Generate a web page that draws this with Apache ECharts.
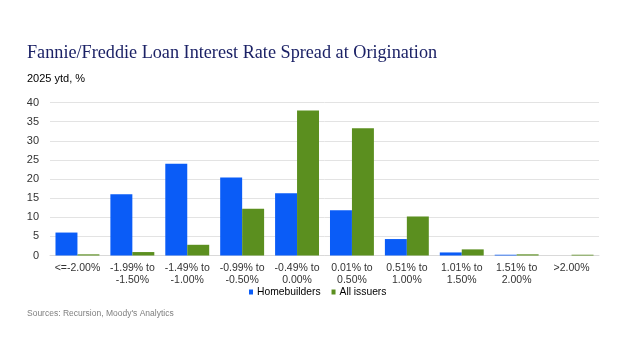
<!DOCTYPE html>
<html>
<head>
<meta charset="utf-8">
<script src="https://cdn.jsdelivr.net/npm/echarts@6/dist/echarts.min.js"></script>
<style>
	html, body { margin: 0; padding: 0; background: #fff; }
	#chart { width: 624px; height: 351px; }
</style>
</head>
<body>
<div id="chart"></div>
<script>
// spread buckets
var categories = ['<=-2.00%', '-1.99% to\n-1.50%', '-1.49% to\n-1.00%', '-0.99% to\n-0.50%', '-0.49% to\n0.00%',
	'0.01% to\n0.50%', '0.51% to\n1.00%', '1.01% to\n1.50%', '1.51% to\n2.00%', '>2.00%'];
var homebuilders = [6.0, 16.0, 24.0, 20.4, 16.3, 11.8, 4.3, 0.8, 0.2, 0.0];
var allIssuers = [0.3, 0.9, 2.8, 12.2, 37.9, 33.3, 10.2, 1.6, 0.3, 0.2];
var yTicks = [0, 5, 10, 15, 20, 25, 30, 35, 40];

var myChart = echarts.init(document.getElementById('chart'));
var option = {
	animation: false,
	title: [{
		text: 'Fannie/Freddie Loan Interest Rate Spread at Origination',
		left: 27,
		top: 44,
		padding: 0,
		textStyle: {
			fontFamily: 'Liberation Serif',
			fontWeight: 'normal',
			fontSize: 18.2,
			color: '#1c2266'
		}
	}, {
		text: '2025 ytd, %',
		left: 27,
		top: 73,
		padding: 0,
		textStyle: {
			fontFamily: 'Liberation Sans',
			fontWeight: 'normal',
			fontSize: 11,
			color: '#000'
		}
	}, {
		text: "Sources: Recursion, Moody's Analytics",
		left: 27,
		top: 309,
		padding: 0,
		textStyle: {
			fontFamily: 'Liberation Sans',
			fontWeight: 'normal',
			fontSize: 8.5,
			color: '#808080'
		}
	}],
	grid: {
		left: 50,
		right: 25,
		top: 102.5,
		bottom: 95.5,
		containLabel: false
	},
	legend: {
		data: ['Homebuilders', 'All issuers'],
		left: 249,
		top: 287,
		padding: 0,
		icon: 'rect',
		itemWidth: 4,
		itemHeight: 5,
		itemGap: 11,
		textStyle: {
			fontFamily: 'Liberation Sans',
			fontSize: 10.3,
			color: '#000',
			padding: [0, 0, 0, -1]
		}
	},
	xAxis: {
		type: 'category',
		data: categories,
		axisLine: { show: true, lineStyle: { color: '#d9d9d9' } },
		axisTick: { show: false },
		axisLabel: {
			interval: 0,
			margin: 7,
			fontFamily: 'Liberation Sans',
			fontSize: 10.5,
			lineHeight: 12,
			color: '#333'
		}
	},
	yAxis: {
		type: 'value',
		min: yTicks[0],
		max: yTicks[yTicks.length - 1],
		interval: 5,
		axisLine: { show: false },
		axisTick: { show: false },
		axisLabel: {
			margin: 11,
			fontFamily: 'Liberation Sans',
			fontSize: 11,
			color: '#333'
		},
		splitLine: {
			show: true,
			lineStyle: { color: '#e3e3e3' }
		}
	},
	series: [{
		name: 'Homebuilders',
		type: 'bar',
		data: homebuilders,
		barGap: '0%',
		barCategoryGap: '20%',
		itemStyle: { color: '#0a5cf7' }
	}, {
		name: 'All issuers',
		type: 'bar',
		data: allIssuers,
		itemStyle: { color: '#5b8f1f' }
	}]
};
myChart.setOption(option);
</script>
</body>
</html>
